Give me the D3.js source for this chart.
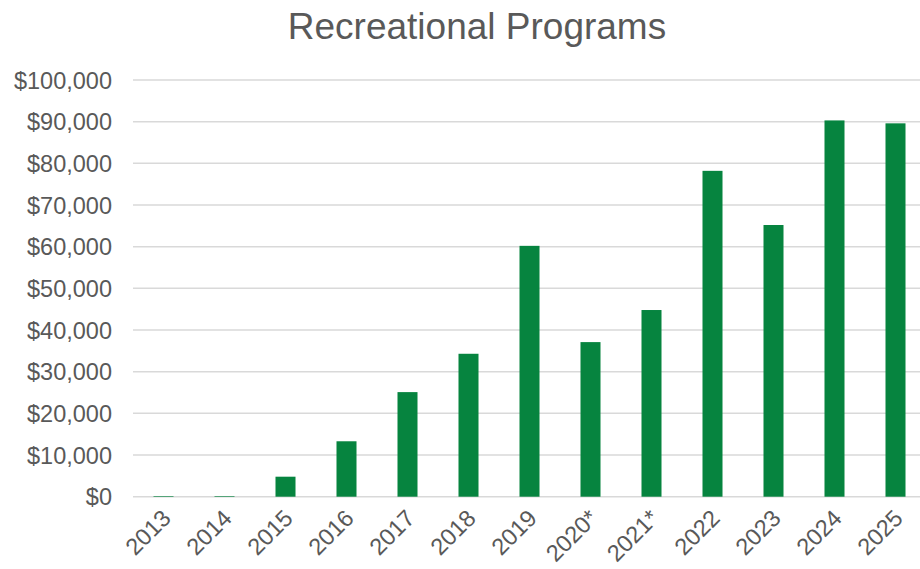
<!DOCTYPE html>
<html>
<head>
<meta charset="utf-8">
<script src="https://cdn.jsdelivr.net/npm/d3@7"></script>
<style>
  html, body { margin: 0; padding: 0; background: #fff; }
  svg { display: block; }
  text { font-family: "Liberation Sans", Arial, sans-serif; fill: #595959; }
</style>
</head>
<body>
<svg id="chart" width="920" height="569"></svg>
<script>
const title = "Recreational Programs";
const categories = ["2013","2014","2015","2016","2017","2018","2019","2020*","2021*","2022","2023","2024","2025"];
const values = [150, 150, 4800, 13300, 25100, 34300, 60200, 37100, 44800, 78200, 65200, 90300, 89600];
const yTicks = [0,10000,20000,30000,40000,50000,60000,70000,80000,90000,100000];

const W = 920, H = 569;
const svg = d3.select("#chart");
const x = d3.scaleBand().domain(categories).range([133, 926]).paddingInner(0.672).paddingOuter(0.336);
const y = d3.scaleLinear().domain([0, 100000]).range([496.7, 80]);

// title
svg.append("text").attr("x", 477).attr("y", 39).attr("text-anchor", "middle")
  .style("font-size", "37px").text(title);

// gridlines
svg.append("g").selectAll("line").data(yTicks).join("line")
  .attr("x1", 133).attr("x2", 926)
  .attr("y1", d => y(d)).attr("y2", d => y(d))
  .attr("stroke", "#d9d9d9").attr("stroke-width", 1.5);

// y axis labels
const fmt = d => "$" + d3.format(",")(d);
const yAxis = d3.axisLeft(y).tickValues(yTicks).tickFormat(fmt).tickSize(0).tickPadding(0);
const gy = svg.append("g").attr("transform", "translate(112,0)").call(yAxis);
gy.select(".domain").remove();
gy.selectAll("text").style("font-size", "23.5px").attr("fill", "#595959").attr("dy", "0.35em");

// bars
svg.append("g").selectAll("rect").data(values).join("rect")
  .attr("x", (d, i) => x(categories[i]))
  .attr("width", x.bandwidth())
  .attr("y", d => y(d))
  .attr("height", d => y(0) - y(d))
  .attr("fill", "#06843F");

// x axis labels
const xAxis = d3.axisBottom(x).tickSize(0).tickPadding(0);
const gx = svg.append("g").attr("transform", "translate(0,506)").call(xAxis);
gx.select(".domain").remove();
gx.selectAll("text").style("font-size", "23.5px").attr("fill", "#595959")
  .attr("text-anchor", "end").attr("dy", "0.7em").attr("dx", "0")
  .attr("transform", "translate(-3,2) rotate(-45)");
</script>
</body>
</html>
